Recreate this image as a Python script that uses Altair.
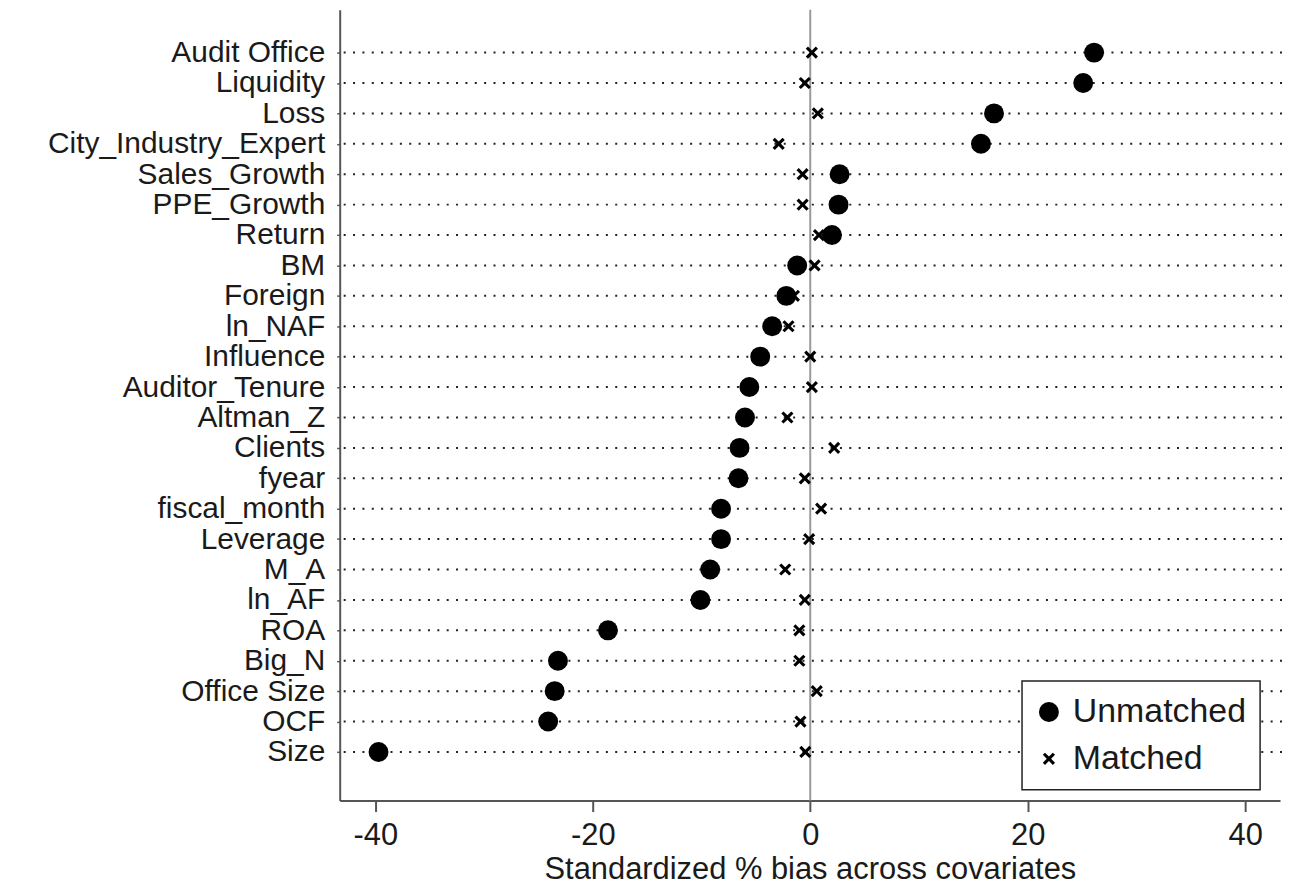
import altair as alt
import pandas as pd

names = ["Audit Office", "Liquidity", "Loss", "City_Industry_Expert", "Sales_Growth",
         "PPE_Growth", "Return", "BM", "Foreign", "ln_NAF", "Influence", "Auditor_Tenure",
         "Altman_Z", "Clients", "fyear", "fiscal_month", "Leverage", "M_A", "ln_AF", "ROA",
         "Big_N", "Office Size", "OCF", "Size"]
unmatched = [26.1, 25.1, 16.9, 15.7, 2.7, 2.6, 2.0, -1.2, -2.2, -3.5, -4.6, -5.6,
             -6.0, -6.5, -6.6, -8.2, -8.2, -9.2, -10.1, -18.6, -23.2, -23.5, -24.1, -39.7]
matched = [0.15, -0.5, 0.7, -2.9, -0.7, -0.7, 0.8, 0.4, -1.5, -2.0, 0.0, 0.15,
           -2.1, 2.2, -0.5, 1.0, -0.1, -2.3, -0.5, -1.0, -1.0, 0.6, -0.9, -0.45]
series = ["Unmatched", "Matched"]
x_ticks = [-40, -20, 0, 20, 40]

rows = []
for i, n in enumerate(names):
    rows.append({"idx": i, "name": n, "series": "Unmatched", "bias": unmatched[i]})
    rows.append({"idx": i, "name": n, "series": "Matched", "bias": matched[i]})
df = pd.DataFrame(rows)
rows_df = pd.DataFrame({"idx": list(range(len(names))), "name": names})

FONT = "Liberation Sans"
label_expr = "[" + ",".join("'" + n + "'" for n in names) + "][datum.value]"

# filled "x" glyph (two crossing bars) so it renders in both plot and legend
s = 0.36
X_PATH = (f"M{-1+s},-1L0,{-s}L{1-s},-1L1,{-1+s}L{s},0L1,{1-s}L{1-s},1L0,{s}"
          f"L{-1+s},1L-1,{1-s}L{-s},0L-1,{-1+s}Z")

xscale = alt.Scale(domain=[-43.27, 43.2], nice=False, zero=False)
yscale = alt.Scale(domain=[-1.41, 24.6], reverse=True, nice=False, zero=False)

yaxis = alt.Axis(values=list(range(len(names))), labelExpr=label_expr, title=None,
                 grid=False, domainColor="#555555", domainWidth=2, tickColor="#555555",
                 tickWidth=1.5, tickSize=3, labelFont=FONT, labelFontSize=30,
                 labelColor="#1a1a1a", labelPadding=12, labelLimit=0, labelOverlap=False)
xaxis = alt.Axis(values=x_ticks, labelExpr="'' + datum.value",
                 title="Standardized % bias across covariates",
                 grid=False, domainColor="#555555", domainWidth=2, tickColor="#555555",
                 tickWidth=2, tickSize=11, labelFont=FONT, labelFontSize=31,
                 labelColor="#1a1a1a", labelPadding=9, titleFont=FONT, titleFontSize=31,
                 titleFontWeight="normal", titleColor="#1a1a1a", titlePadding=4)

legend = alt.Legend(title=None, orient="none", legendX=685, legendY=674,
                    fillColor="white", strokeColor="#222222",
                    padding=14, labelFont=FONT, labelFontSize=34,
                    labelColor="#1a1a1a", rowPadding=13, labelOffset=7, symbolOffset=-4,
                    symbolFillColor="black", symbolStrokeWidth=0, labelLimit=0)

dots = alt.Chart(rows_df).mark_rule(color="#222222", strokeWidth=2, strokeDash=[2, 7.4]).encode(
    y=alt.Y("idx:Q", scale=yscale, axis=yaxis),
    x=alt.value(4),
    x2=alt.value(960),
)

zero = alt.Chart(pd.DataFrame({"z": [0]})).mark_rule(color="#9a9a9a", strokeWidth=2).encode(
    x=alt.X("z:Q", scale=xscale, axis=xaxis)
)

points = alt.Chart(df).mark_point(filled=True, opacity=1, strokeWidth=0).encode(
    x=alt.X("bias:Q", scale=xscale, axis=xaxis),
    y=alt.Y("idx:Q", scale=yscale, axis=yaxis),
    color=alt.value("black"),
    shape=alt.Shape("series:N",
                    scale=alt.Scale(domain=series, range=["circle", X_PATH]),
                    legend=legend),
    size=alt.Size("series:N", scale=alt.Scale(domain=series, range=[400, 150]), legend=legend),
)

chart = alt.layer(dots, zero, points).properties(
    width=944, height=794,
    autosize=alt.AutoSizeParams(type="none"),
    padding={"left": 333, "top": 0, "right": 4, "bottom": 84},
).configure_view(stroke=None).configure_legend(strokeWidth=1.5, cornerRadius=0)

chart.save("out.html", embed_options={"renderer": "svg", "actions": False})
